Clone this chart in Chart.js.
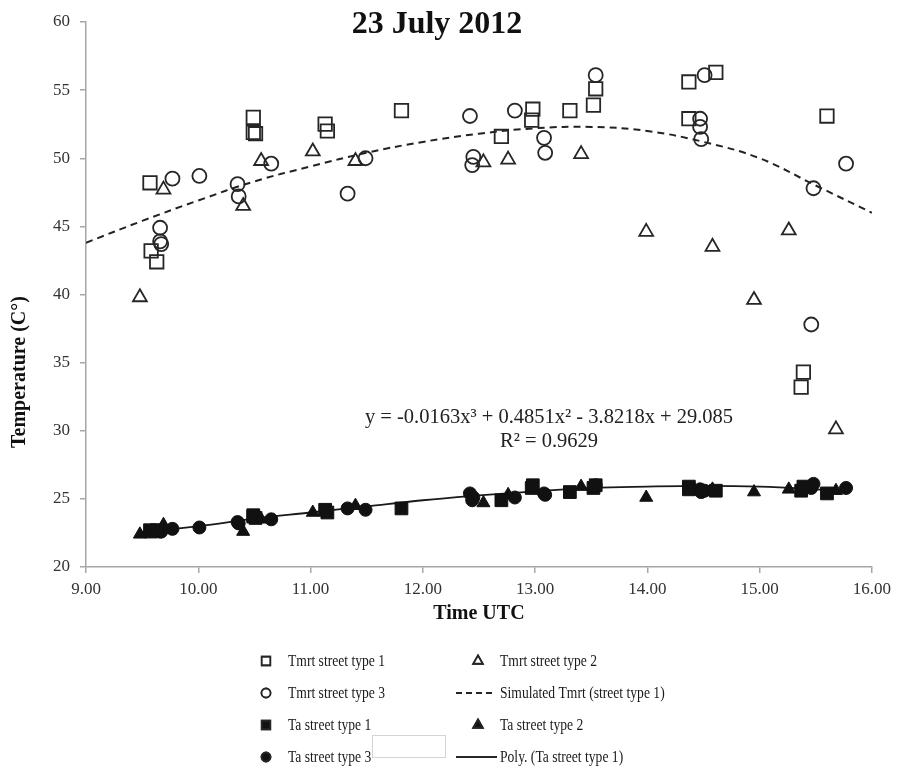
<!DOCTYPE html>
<html>
<head>
<meta charset="utf-8">
<script src="https://cdn.jsdelivr.net/npm/chart.js@4.4.1/dist/chart.umd.min.js"></script>
<style>
  html, body { margin: 0; padding: 0; background: #fff; }
</style>
</head>
<body>
<canvas id="chart" width="897" height="769"></canvas>
<script>
// Tmrt (open markers)
const tmrt1X = [9.57, 9.58, 9.63, 10.49, 10.49, 10.51, 11.13, 11.15, 11.81, 12.70, 12.97, 12.98, 13.31, 13.52, 13.54, 14.37, 14.37, 14.61, 15.37, 15.39, 15.60];
const tmrt1Y = [48.2, 43.2, 42.4, 53.0, 51.9, 51.8, 52.5, 52.0, 53.5, 51.6, 52.8, 53.6, 53.5, 53.9, 55.1, 55.6, 52.9, 56.3, 33.2, 34.3, 53.1];

const tmrt2X = [9.48, 9.69, 10.40, 10.56, 11.02, 11.40, 12.54, 12.76, 13.41, 13.99, 14.58, 14.95, 15.26, 15.68];
const tmrt2Y = [39.8, 47.7, 46.5, 49.8, 50.5, 49.8, 49.7, 49.9, 50.3, 44.6, 43.5, 39.6, 44.7, 30.1];

const tmrt3X = [9.66, 9.66, 9.67, 9.77, 10.01, 10.35, 10.36, 10.65, 11.33, 11.49, 12.42, 12.44, 12.45, 12.82, 13.08, 13.09, 13.54, 14.47, 14.47, 14.48, 14.51, 15.46, 15.48, 15.77];
const tmrt3Y = [44.9, 43.9, 43.7, 48.5, 48.7, 48.1, 47.2, 49.6, 47.4, 50.0, 53.1, 49.5, 50.1, 53.5, 51.5, 50.4, 56.1, 52.9, 52.3, 51.4, 56.1, 37.8, 47.8, 49.6];

// simulated Tmrt curve (dashed)
const simX = [9.0, 9.5, 10.0, 10.5, 11.0, 11.5, 12.0, 12.5, 13.0, 13.5, 14.0, 14.5, 15.0, 15.5, 16.0];
const simY = [43.8, 45.4, 46.9, 48.3, 49.4, 50.4, 51.2, 51.8, 52.2, 52.3, 52.0, 51.2, 50.0, 48.0, 46.0];

// Ta (filled markers)
const ta1X = tmrt1X;
const ta1Y = [22.7, 22.6, 22.7, 23.8, 23.7, 23.6, 24.2, 24.0, 24.3, 24.9, 25.8, 26.0, 25.5, 25.8, 26.0, 25.9, 25.7, 25.6, 25.6, 25.9, 25.4];

const ta2X = tmrt2X;
const ta2Y = [22.4, 23.1, 22.6, 23.5, 24.0, 24.5, 24.7, 25.3, 25.9, 25.1, 25.7, 25.5, 25.7, 25.6];

const ta3X = tmrt3X;
const ta3Y = [22.7, 22.6, 22.6, 22.8, 22.9, 23.3, 23.2, 23.5, 24.3, 24.2, 25.4, 24.9, 25.1, 25.1, 25.4, 25.3, 26.0, 25.7, 25.6, 25.5, 25.6, 25.8, 26.1, 25.8];

// Poly. (Ta street type 1) trend line
const polyX = [9.47, 10.0, 10.5, 11.0, 11.5, 12.0, 12.5, 13.0, 13.5, 14.0, 14.5, 15.0, 15.5, 15.77];
const polyY = [22.55, 23.0, 23.55, 24.0, 24.45, 24.9, 25.25, 25.55, 25.8, 25.9, 25.95, 25.9, 25.7, 25.55];

const xTicks = [9, 10, 11, 12, 13, 14, 15, 16];
const yTicks = [20, 25, 30, 35, 40, 45, 50, 55, 60];

const chartTitle = "23 July 2012";
const yTitle = "Temperature (C°)";
const eqLine1 = "y = -0.0163x³ + 0.4851x² - 3.8218x + 29.085";
const eqLine2 = "R² = 0.9629";

const SERIF = "'Liberation Serif', 'Times New Roman', serif";
const INK = "#262626";

function pts(xs, ys) {
    return xs.map((x, i) => ({ x: x, y: ys[i] }));
}

function openSet(label, xs, ys, style, radius) {
    return {
        label, data: pts(xs, ys), pointStyle: style, pointRadius: radius,
        pointBackgroundColor: "rgba(255,255,255,0)", pointBorderColor: INK,
        pointBorderWidth: 1.8, showLine: false
    };
}

function filledSet(label, xs, ys, style, radius) {
    return {
        label, data: pts(xs, ys), pointStyle: style, pointRadius: radius,
        pointBackgroundColor: "#111", pointBorderColor: "#111",
        pointBorderWidth: 1, showLine: false
    };
}

const legendItems = [
    { text: "Tmrt street type 1", kind: "point", style: "rect", fill: false, col: 0, row: 0 },
    { text: "Tmrt street type 2", kind: "point", style: "triangle", fill: false, col: 1, row: 0 },
    { text: "Tmrt street type 3", kind: "point", style: "circle", fill: false, col: 0, row: 1 },
    { text: "Simulated Tmrt (street type 1)", kind: "dash", col: 1, row: 1 },
    { text: "Ta street type 1", kind: "point", style: "rect", fill: true, col: 0, row: 2 },
    { text: "Ta street type 2", kind: "point", style: "triangle", fill: true, col: 1, row: 2 },
    { text: "Ta street type 3", kind: "point", style: "circle", fill: true, col: 0, row: 3 },
    { text: "Poly. (Ta street type 1)", kind: "line", col: 1, row: 3 }
];

// titles, equation and the two-column legend
const extrasPlugin = {
    id: "extras",
    afterDraw(chart) {
        const ctx = chart.ctx;
        ctx.save();
        ctx.fillStyle = "#111";
        ctx.textAlign = "center";
        ctx.textBaseline = "alphabetic";
        ctx.font = "bold 32px " + SERIF;
        ctx.fillText(chartTitle, 437, 33);

        // y axis title, sits lower than the axis middle in the original
        ctx.save();
        ctx.translate(25, 372);
        ctx.rotate(-Math.PI / 2);
        ctx.textBaseline = "alphabetic";
        ctx.font = "bold 20px " + SERIF;
        ctx.fillText(yTitle, 0, 0);
        ctx.restore();

        ctx.fillStyle = "#222";
        ctx.font = "20.5px " + SERIF;
        ctx.fillText(eqLine1, 549, 423);
        ctx.fillText(eqLine2, 549, 447);

        // legend (text is narrow in the original, so squeeze it a bit)
        const colIcon = [266, 478];
        const colText = [288, 500];
        const rowY = [661, 693, 725, 757];
        const squeeze = 0.85;
        ctx.font = "16px " + SERIF;
        ctx.textAlign = "left";
        ctx.textBaseline = "middle";
        legendItems.forEach(it => {
            const y = rowY[it.row];
            const x = colIcon[it.col];
            ctx.strokeStyle = INK;
            ctx.fillStyle = it.fill ? "#111" : "#fff";
            if (it.kind === "point") {
                ctx.lineWidth = 1.8;
                const r = it.style === "rect" ? 6 : it.style === "triangle" ? 5.5 : 4.5;
                Chart.helpers.drawPoint(ctx, { pointStyle: it.style, radius: r, borderWidth: 1.8 }, x, y);
                ctx.fill();
                ctx.stroke();
            } else {
                ctx.beginPath();
                ctx.lineWidth = it.kind === "dash" ? 2 : 2.2;
                ctx.setLineDash(it.kind === "dash" ? [6, 4] : []);
                ctx.moveTo(456, y);
                ctx.lineTo(it.kind === "dash" ? 492 : 497, y);
                ctx.stroke();
                ctx.setLineDash([]);
            }
            ctx.save();
            ctx.translate(colText[it.col], y + 1);
            ctx.scale(squeeze, 1);
            ctx.fillStyle = "#1a1a1a";
            ctx.fillText(it.text, 0, 0);
            ctx.restore();
        });
        // stray empty box seen in the original legend
        ctx.strokeStyle = "#d4d4d4";
        ctx.lineWidth = 1;
        ctx.strokeRect(372.5, 735.5, 73, 22);
        ctx.restore();
    }
};

const axisGrey = "#a6a6a6";

new Chart(document.getElementById("chart").getContext("2d"), {
    type: "scatter",
    data: {
        datasets: [
            openSet("Tmrt street type 1", tmrt1X, tmrt1Y, "rect", 9.5),
            openSet("Tmrt street type 2", tmrt2X, tmrt2Y, "triangle", 8),
            openSet("Tmrt street type 3", tmrt3X, tmrt3Y, "circle", 7),
            {
                label: "Simulated Tmrt (street type 1)", data: pts(simX, simY),
                showLine: true, borderColor: "#222", borderWidth: 2, borderDash: [7, 5],
                pointRadius: 0, tension: 0.4, fill: false
            },
            filledSet("Ta street type 1", ta1X, ta1Y, "rect", 9),
            filledSet("Ta street type 2", ta2X, ta2Y, "triangle", 7.5),
            filledSet("Ta street type 3", ta3X, ta3Y, "circle", 6.5),
            {
                label: "Poly. (Ta street type 1)", data: pts(polyX, polyY),
                showLine: true, borderColor: "#1a1a1a", borderWidth: 1.8,
                pointRadius: 0, tension: 0.4, fill: false
            }
        ]
    },
    options: {
        responsive: false,
        animation: false,
        layout: { padding: { top: 22, right: 23, bottom: 141, left: 0 } },
        plugins: {
            legend: { display: false },
            tooltip: { enabled: false }
        },
        scales: {
            x: {
                type: "linear", min: 9, max: 16,
                afterBuildTicks: s => { s.ticks = xTicks.map(v => ({ value: v })); },
                afterFit: s => { s.height = 61; },
                ticks: {
                    callback: v => v.toFixed(2),
                    font: { family: SERIF, size: 17 }, color: "#333", padding: 6, maxRotation: 0
                },
                grid: { drawOnChartArea: false, drawTicks: true, tickLength: 6, color: axisGrey, lineWidth: 1.5 },
                border: { color: axisGrey, width: 1.5 },
                title: {
                    display: true, text: "Time UTC", color: "#111",
                    font: { family: SERIF, size: 20, weight: "bold" }, padding: { top: 2, bottom: 2 }
                }
            },
            y: {
                type: "linear", min: 20, max: 60,
                afterBuildTicks: s => { s.ticks = yTicks.map(v => ({ value: v })); },
                afterFit: s => { s.width = 86; },
                ticks: {
                    callback: v => String(v),
                    font: { family: SERIF, size: 17 }, color: "#333", padding: 10
                },
                grid: { drawOnChartArea: false, drawTicks: true, tickLength: 6, color: axisGrey, lineWidth: 1.5 },
                border: { color: axisGrey, width: 1.5 }
            }
        }
    },
    plugins: [extrasPlugin]
});
</script>
</body>
</html>
